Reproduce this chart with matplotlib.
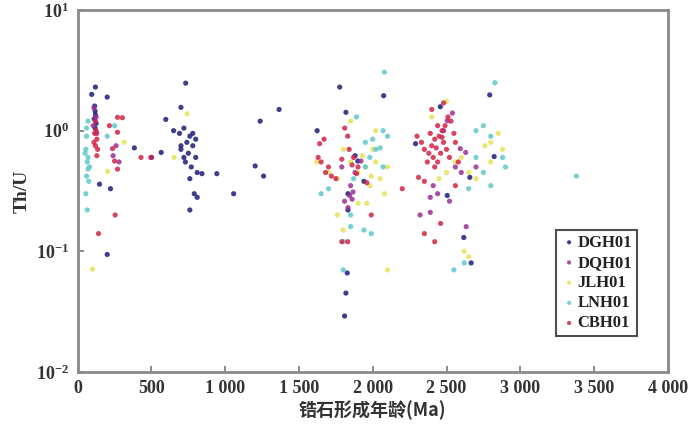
import matplotlib
matplotlib.use("Agg")
import matplotlib.pyplot as plt
from matplotlib.ticker import FixedLocator, NullLocator

# zircon age (Ma) and Th/U
dgh_age = [120, 95, 200, 115, 118, 120, 112, 125, 118, 148, 222, 200, 384, 500, 566, 597,
           732, 700, 650, 690, 720, 760, 800, 740, 780, 700, 750, 800, 730, 770, 810, 720,
           760, 790, 810, 760, 700, 780, 842, 943, 1057, 1203, 1237, 1260, 1365,
           1623, 1818, 1899, 1832, 1832, 1827, 1818, 1809, 1776, 2074, 1880, 1940,
           2793, 2458, 2290, 2823, 2658, 2617, 2667, 2505]
dgh_thu = [2.3, 2.0, 1.9, 1.6, 1.45, 1.35, 1.25, 1.15, 1.05, 0.36, 0.33, 0.094, 0.72, 0.60, 0.66, 1.24,
           2.48, 1.56, 1.0, 0.95, 1.05, 0.9, 0.85, 0.8, 0.75, 0.7, 0.65, 0.6, 0.55, 0.5, 0.45, 0.6,
           0.4, 0.3, 0.28, 0.22, 0.75, 0.95, 0.44, 0.44, 0.30, 0.51, 1.20, 0.42, 1.50,
           1.0, 1.42, 0.56, 0.30, 0.22, 0.066, 0.045, 0.029, 2.3, 1.95, 0.62, 0.38,
           1.98, 1.58, 0.78, 0.61, 0.41, 0.13, 0.080, 0.29]

dqh_age = [110, 125, 105, 130, 260, 240, 280,
           1843, 1832, 1866, 1809, 1920, 1850, 1880, 1790, 1860,
           2505, 2630, 2390, 2321, 2633, 2390, 2593, 2540, 2480, 2560, 2410, 2440, 2700, 2600, 2520]
dqh_thu = [1.55, 1.3, 1.1, 0.95, 0.75, 0.62, 0.55,
           0.29, 0.23, 0.31, 0.26, 0.56, 0.35, 0.45, 0.5, 0.27,
           1.21, 0.66, 0.28, 0.20, 0.16, 0.21, 0.71, 1.4, 1.0, 0.5, 0.35, 0.3, 0.5, 0.45, 0.26]

jlh_age = [101, 202, 316, 741, 653,
           1620, 1700, 1760, 1800, 1850, 1900, 1950, 2000, 2020, 2050, 2080, 1980, 1900, 1960,
           2100, 1800, 1760, 1850, 2020, 2100, 1930, 1990,
           2400, 2450, 2500, 2560, 2600, 2650, 2700, 2800, 2850, 2880, 2760, 2800, 2620, 2650, 2500]
jlh_thu = [0.071, 0.46, 0.8, 1.38, 0.6,
           0.55, 0.45, 0.4, 0.7, 0.55, 0.45, 0.5, 0.7, 0.55, 0.4, 0.3, 0.35, 0.25, 0.25,
           0.07, 0.15, 0.2, 1.2, 1.0, 0.5, 0.62, 0.42,
           1.3, 0.4, 0.45, 0.55, 0.6, 0.45, 0.4, 0.8, 0.95, 0.7, 0.75, 0.55, 0.1, 0.09, 1.75]

lnh_age = [60, 55, 65, 70, 60, 75, 55, 65, 50, 70, 80, 60, 70, 200, 250,
           1800, 1800, 1950, 2000, 1980, 2020, 2050, 2070, 2100, 1950, 2070, 1870, 1650, 1700,
           1850, 1850, 1940, 1990, 2079, 1890,
           2620, 2550, 2700, 2800, 2750, 2880, 2900, 2800, 2650, 2700, 2828, 3380, 2750]
lnh_thu = [0.9, 0.7, 0.55, 0.48, 0.42, 0.38, 0.3, 0.22, 0.65, 0.6, 0.5, 1.05, 1.2, 0.9, 1.1,
           0.12, 0.07, 0.8, 0.85, 0.6, 0.7, 0.72, 0.5, 0.9, 0.5, 1.0, 0.4, 0.3, 0.33,
           0.2, 0.16, 0.15, 0.14, 3.06, 1.3,
           0.08, 0.07, 1.0, 0.9, 1.1, 0.6, 0.5, 0.35, 0.33, 0.6, 2.5, 0.42, 0.45]

cbh_age = [120, 125, 115, 130, 110, 120, 135, 130, 270, 303, 215, 270, 236, 250, 270, 254, 141, 429, 496,
           1630, 1650, 1680, 1700, 1720, 1750, 1790, 1830, 1810, 1840, 1870, 1900, 1960, 1990, 2200,
           1830, 1790, 1640, 1670, 1860, 1890,
           2300, 2330, 2350, 2380, 2400, 2420, 2450, 2470, 2480, 2500, 2520, 2440, 2410, 2460, 2490,
           2510, 2530, 2550, 2560, 2440, 2420, 2370, 2480, 2400, 2560, 2580, 2350, 2310, 2420, 2460, 2350,
           2390, 2430, 2470]
cbh_thu = [1.2, 1.0, 0.95, 0.85, 0.8, 0.75, 0.7, 0.62, 1.29, 1.28, 1.1, 0.97, 0.71, 0.56, 0.48, 0.20, 0.14, 0.60, 0.60,
           0.6, 0.55, 0.45, 0.5, 0.42, 0.4, 0.58, 0.9, 1.05, 0.7, 0.6, 0.5, 0.37, 0.2, 0.33,
           0.12, 0.12, 0.78, 0.85, 0.52, 0.44,
           0.9, 0.8, 0.7, 0.65, 0.75, 0.85, 0.9, 1.0, 0.8, 0.7, 0.6, 0.55, 0.6, 0.65, 1.1,
           1.3, 1.2, 0.95, 0.8, 1.1, 0.5, 0.55, 1.7, 1.5, 0.35, 0.55, 0.38, 0.41, 0.12, 0.17, 0.14,
           0.95, 0.72, 0.88]

series = [
    ("DGH01", dgh_age, dgh_thu, "#1c1c78"),
    ("DQH01", dqh_age, dqh_thu, "#9a2e96"),
    ("JLH01", jlh_age, jlh_thu, "#e6e25a"),
    ("LNH01", lnh_age, lnh_thu, "#5cc8cc"),
    ("CBH01", cbh_age, cbh_thu, "#d02448"),
]

x_ticks = [0, 500, 1000, 1500, 2000, 2500, 3000, 3500, 4000]
x_labels = ["0", "500", "1 000", "1 500", "2 000", "2 500", "3 000", "3 500", "4 000"]
y_ticks = [0.01, 0.1, 1, 10]
y_labels = ["$\\mathbf{10^{-2}}$", "$\\mathbf{10^{-1}}$", "$\\mathbf{10^{0}}$", "$\\mathbf{10^{1}}$"]

serif = "Liberation Serif"
plt.rcParams["mathtext.fontset"] = "custom"
plt.rcParams["mathtext.bf"] = "Liberation Serif:bold"
plt.rcParams["mathtext.rm"] = "Liberation Serif"

fig, ax = plt.subplots(figsize=(7, 4.4), dpi=100)
fig.subplots_adjust(left=0.111, right=0.954, top=0.977, bottom=0.155)

for label, age, thu, color in series:
    ax.scatter(age, thu, s=14, color=color, alpha=0.85, edgecolors="none", label=label)

ax.set_yscale("log")
ax.set_xlim(0, 4000)
ax.set_ylim(0.01, 10)
ax.xaxis.set_major_locator(FixedLocator(x_ticks))
ax.set_xticklabels(x_labels)
ax.yaxis.set_major_locator(FixedLocator(y_ticks))
ax.yaxis.set_minor_locator(NullLocator())
ax.set_yticklabels(y_labels)
for t in ax.get_xticklabels() + ax.get_yticklabels():
    t.set_fontfamily(serif)
    t.set_fontweight("bold")
    t.set_fontsize(13)
    t.set_color("#333333")
ax.tick_params(direction="in", length=4, width=1.2, color="#777777", pad=6)

for sp in ax.spines.values():
    sp.set_color("#8a8a8a")
    sp.set_linewidth(2)

ax.set_ylabel("Th/U", family=serif, fontweight="bold", fontsize=14, color="#333333", labelpad=4)
ax.set_xlabel("锆石形成年龄(Ma)", family=["Noto Sans CJK SC", serif], fontweight="bold",
              fontsize=13, color="#333333", labelpad=2)

leg = ax.legend(loc="lower right", bbox_to_anchor=(0.962, 0.075), frameon=True, fancybox=False,
                handletextpad=0.0, handlelength=1.0, borderpad=0.3, labelspacing=0.25,
                markerscale=0.8, prop={"family": serif, "weight": "bold", "size": 12})
leg.get_frame().set_edgecolor("#222222")
leg.get_frame().set_linewidth(1.5)
for t in leg.get_texts():
    t.set_color("#222222")

fig.savefig("out.png", dpi=100)
